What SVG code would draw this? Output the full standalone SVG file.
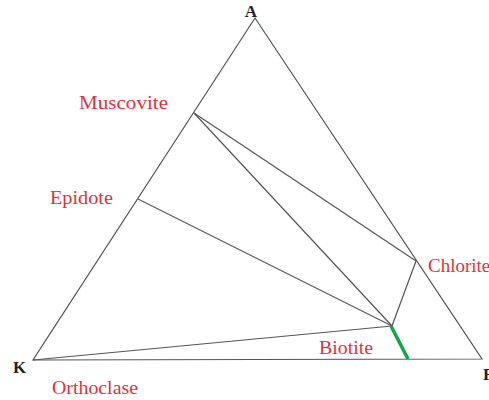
<svg xmlns="http://www.w3.org/2000/svg" width="489" height="400" viewBox="0 0 489 400">
<style>
.edge{stroke:#555;stroke-width:1.2;fill:none}
.lbl{font-family:"Liberation Serif",serif;font-size:19px;fill:#e3313c}
.vtx{font-family:"Liberation Serif",serif;font-size:17px;font-weight:bold;fill:#222}
</style>
<rect width="489" height="400" fill="#fff"/>
<g id="connectors">
<polygon class="edge" points="255,18 33,360 482,359"/>
<line class="edge" x1="194" y1="113" x2="416" y2="261"/>
<line class="edge" x1="194" y1="113" x2="392" y2="326"/>
<line class="edge" x1="138" y1="199" x2="392" y2="326"/>
<line class="edge" x1="416" y1="261" x2="392" y2="326"/>
<line class="edge" x1="33" y1="360" x2="392" y2="326"/>
<line x1="391" y1="326" x2="408" y2="359" stroke="#16a34a" stroke-width="3.5"/>
</g>
<g id="A"><text class="vtx" x="251" y="17" text-anchor="middle">A</text></g>
<g id="K"><text class="vtx" x="13" y="373">K</text></g>
<g id="F"><text class="vtx" x="483" y="380">F</text></g>
<g id="muscovite"><text class="lbl" x="79" y="109" textLength="89" lengthAdjust="spacingAndGlyphs">Muscovite</text></g>
<g id="epidote"><text class="lbl" x="50" y="204" textLength="63" lengthAdjust="spacingAndGlyphs">Epidote</text></g>
<g id="chlorite"><text class="lbl" x="428" y="272">Chlorite</text></g>
<g id="biotite"><text class="lbl" x="319" y="354" textLength="54" lengthAdjust="spacingAndGlyphs">Biotite</text></g>
<g id="orthoclase"><text class="lbl" x="52" y="394" textLength="86" lengthAdjust="spacingAndGlyphs">Orthoclase</text></g>
</svg>
